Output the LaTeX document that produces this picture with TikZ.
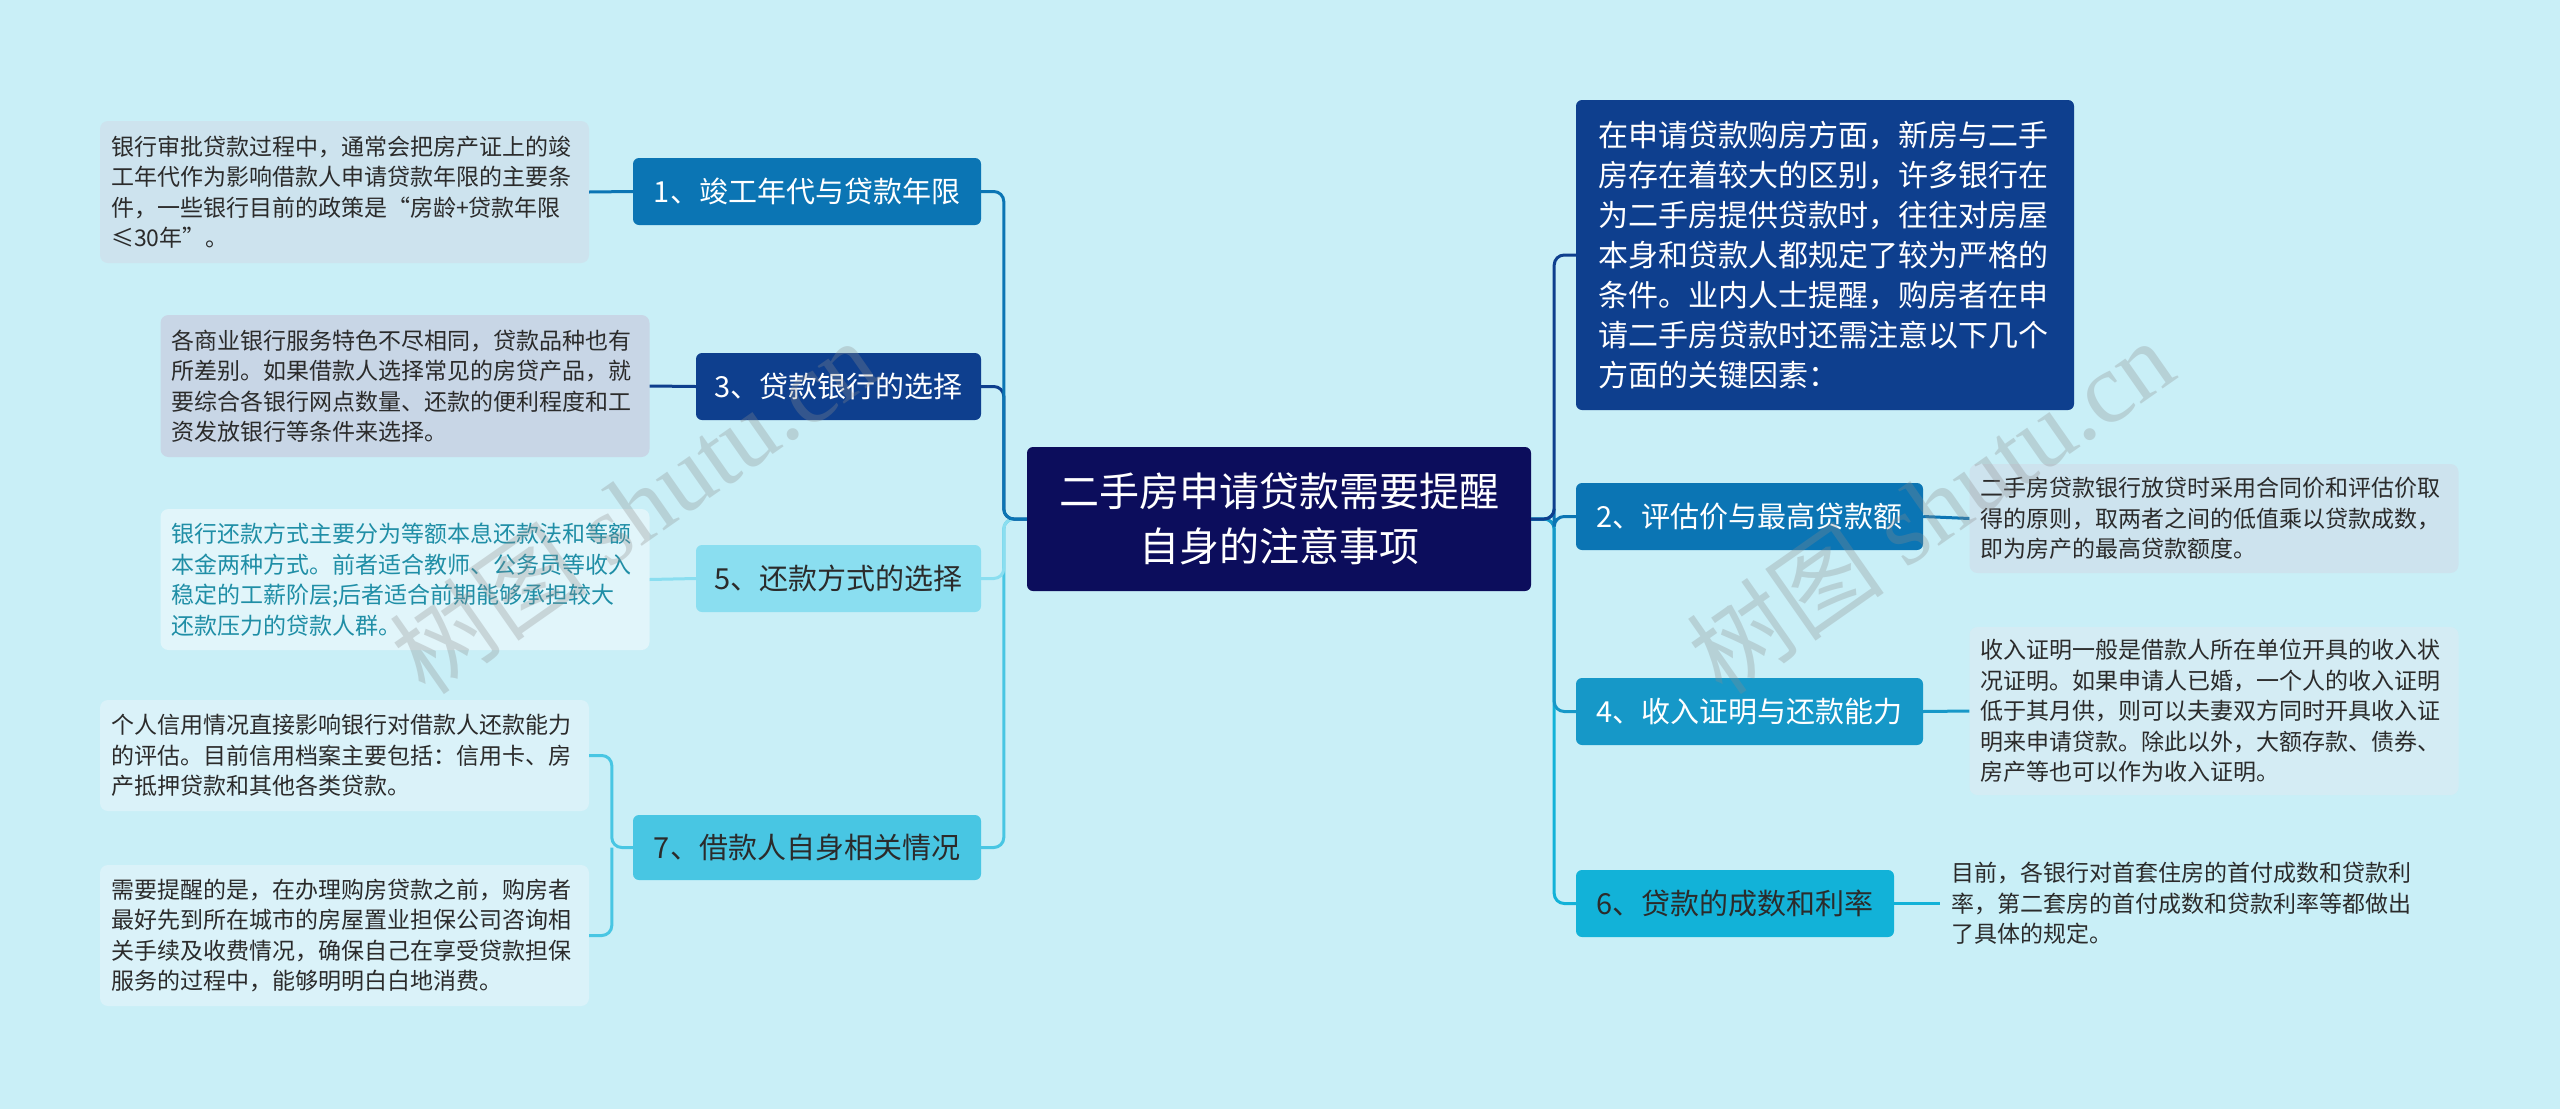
\documentclass[tikz,border=0pt]{standalone}
\usepackage{fontspec}
\setmainfont{Noto Sans CJK SC}
\newfontfamily\wmfont{Liberation Serif}
\usetikzlibrary{positioning}
\definecolor{bgcol}{HTML}{C9EFF7}
\definecolor{rootcol}{HTML}{0C0D5C}
\definecolor{navy}{HTML}{0E3F8E}
\definecolor{midblue}{HTML}{0B75B4}
\definecolor{skyblue}{HTML}{1698C8}
\definecolor{cyanbox}{HTML}{12B2D8}
\definecolor{lightcyan}{HTML}{8ADEF0}
\definecolor{paleblue}{HTML}{48C6E3}
\definecolor{notegray}{HTML}{CDE3EE}
\definecolor{notelav}{HTML}{C8D6E6}
\definecolor{notepale}{HTML}{E1F5FA}
\definecolor{notecyan}{HTML}{DAF2F9}
\definecolor{notesky}{HTML}{D4ECF4}
\definecolor{txtcol}{HTML}{2B2B2B}
\definecolor{tealtxt}{HTML}{1F8EA6}
\tikzset{mainbox/.style={fill=rootcol,text=white,rounded corners=6pt,align=center,
           font=\fontsize{40}{55}\selectfont,minimum width=504pt,minimum height=144pt,inner sep=0pt},
         subbox/.style={rounded corners=6pt,font=\fontsize{29}{35}\selectfont,
           minimum height=67pt,inner sep=0pt},
         notebox/.style={rounded corners=8pt,font=\fontsize{23}{30.5}\selectfont,align=left,
           text width=467pt,inner xsep=11pt,inner ysep=0pt,text=txtcol},
         conn/.style={line width=3pt},
         wmark/.style={rotate=35,text=black!45,opacity=.3,font=\fontsize{100}{100}\selectfont}}
\begin{document}
\begin{tikzpicture}[x=1pt,y=-1pt]
  \fill[bgcol] (0,0) rectangle (2560,1109);
  \useasboundingbox (0,0) rectangle (2560,1109);

  \node[mainbox] (root) at (1279,519) {二手房申请贷款需要提醒\\自身的注意事项};

  % left side
  \node[subbox,fill=midblue,text=white,minimum width=348pt] (b1) at (807,191.5) {1、竣工年代与贷款年限};
  \node[subbox,fill=navy,text=white,minimum width=285pt] (b3) at (838.5,386.5) {3、贷款银行的选择};
  \node[subbox,fill=lightcyan,text=txtcol,minimum width=285pt] (b5) at (838.5,578.5) {5、还款方式的选择};
  \node[subbox,fill=paleblue,text=txtcol,minimum width=348pt,minimum height=65pt] (b7) at (807,847.5) {7、借款人自身相关情况};

  \node[notebox,fill=notegray,minimum height=142pt] (l1) at (344.5,192) {银行审批贷款过程中，通常会把房产证上的竣\\工年代作为影响借款人申请贷款年限的主要条\\件，一些银行目前的政策是“房龄+贷款年限\\≤30年”。};
  \node[notebox,fill=notelav,minimum height=142pt] (l3) at (405,386) {各商业银行服务特色不尽相同，贷款品种也有\\所差别。如果借款人选择常见的房贷产品，就\\要综合各银行网点数量、还款的便利程度和工\\资发放银行等条件来选择。};
  \node[notebox,fill=notepale,text=tealtxt,minimum height=141pt] (l5) at (405,579.5) {银行还款方式主要分为等额本息还款法和等额\\本金两种方式。前者适合教师、公务员等收入\\稳定的工薪阶层;后者适合前期能够承担较大\\还款压力的贷款人群。};
  \node[notebox,fill=notecyan,minimum height=111pt] (l7a) at (344.5,755.5) {个人信用情况直接影响银行对借款人还款能力\\的评估。目前信用档案主要包括：信用卡、房\\产抵押贷款和其他各类贷款。};
  \node[notebox,fill=notecyan,minimum height=141pt] (l7b) at (344.5,935.5) {需要提醒的是，在办理购房贷款之前，购房者\\最好先到所在城市的房屋置业担保公司咨询相\\关手续及收费情况，确保自己在享受贷款担保\\服务的过程中，能够明明白白地消费。};

  % right side
  \node[rounded corners=6pt,fill=navy,text=white,align=left,font=\fontsize{30}{40}\selectfont,
    text width=454pt,inner xsep=22pt,inner ysep=0pt,minimum height=310pt] (r0) at (1825,255)
    {在申请贷款购房方面，新房与二手\\房存在着较大的区别，许多银行在\\为二手房提供贷款时，往往对房屋\\本身和贷款人都规定了较为严格的\\条件。业内人士提醒，购房者在申\\请二手房贷款时还需注意以下几个\\方面的关键因素：};
  \node[subbox,fill=midblue,text=white,minimum width=347pt] (b2) at (1749.5,516.5) {2、评估价与最高贷款额};
  \node[subbox,fill=skyblue,text=white,minimum width=347pt] (b4) at (1749.5,711.5) {4、收入证明与还款能力};
  \node[subbox,fill=cyanbox,text=txtcol,minimum width=318pt] (b6) at (1735,903.5) {6、贷款的成数和利率};

  \node[notebox,fill=notegray,minimum height=109pt] (l2) at (2214,518.5) {二手房贷款银行放贷时采用合同价和评估价取\\得的原则，取两者之间的低值乘以贷款成数，\\即为房产的最高贷款额度。};
  \node[notebox,fill=notesky,minimum height=168pt] (l4) at (2214,711) {收入证明一般是借款人所在单位开具的收入状\\况证明。如果申请人已婚，一个人的收入证明\\低于其月供，则可以夫妻双方同时开具收入证\\明来申请贷款。除此以外，大额存款、债券、\\房产等也可以作为收入证明。};
  \node[notebox,anchor=west] (l6) at (1940,903.5) {目前，各银行对首套住房的首付成数和贷款利\\率，第二套房的首付成数和贷款利率等都做出\\了具体的规定。};

  % connectors
  \draw[conn,paleblue,rounded corners=10pt] (root.west) -- ++(-23,0) |- (b7.east);
  \draw[conn,lightcyan,rounded corners=10pt] (root.west) -- ++(-23,0) |- (b5.east);
  \draw[conn,navy,rounded corners=10pt] (root.west) -- ++(-23,0) |- (b3.east);
  \draw[conn,midblue,rounded corners=10pt] (root.west) -- ++(-23,0) |- (b1.east);
  \draw[conn,cyanbox,rounded corners=10pt] (root.east) -- ++(23,0) |- (b6.west);
  \draw[conn,skyblue,rounded corners=10pt] (root.east) -- ++(23,0) |- (b4.west);
  \draw[conn,midblue,rounded corners=10pt] (root.east) -- ++(23,0) |- (b2.west);
  \draw[conn,navy,rounded corners=10pt] (root.east) -- ++(23,0) |- (r0.west);

  \draw[conn,midblue] (b1.west) -- (l1.east);
  \draw[conn,navy] (b3.west) -- (l3.east);
  \draw[conn,lightcyan] (b5.west) -- (l5.east);
  \draw[conn,paleblue,rounded corners=10pt] (b7.west) -- ++(-21,0) coordinate (k7) |- (l7a.east);
  \draw[conn,paleblue,rounded corners=10pt] (k7) |- (l7b.east);
  \draw[conn,midblue] (b2.east) -- (l2.west);
  \draw[conn,skyblue] (b4.east) -- (l4.west);
  \draw[conn,cyanbox] (b6.east) -- (l6.west);

  % watermark
  \node[wmark] (wm1) at (633,506) {树图 {\wmfont shutu.cn}};
  \node[wmark] (wm2) at (1930,506) {树图 {\wmfont shutu.cn}};
\end{tikzpicture}
\end{document}
